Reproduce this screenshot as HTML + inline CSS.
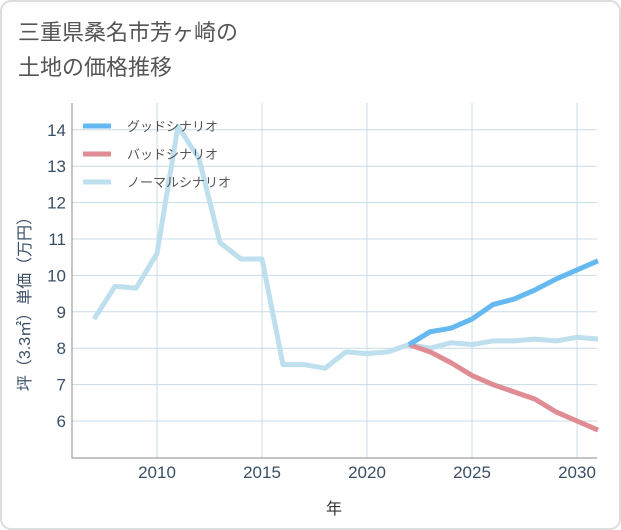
<!DOCTYPE html>
<html><head><meta charset="utf-8"><style>
body{margin:0;background:#fff;font-family:"Liberation Sans","Noto Sans CJK JP",sans-serif;}
#wrap{position:relative;width:621px;height:530px;}
</style></head><body>
<div id="wrap">
<svg id="chart" width="621" height="530" style="position:absolute;left:0;top:0">
<rect x="1" y="1" width="619" height="528" rx="10" fill="#fff" stroke="#ddd" stroke-width="2"/>
<text x="18" y="40" font-size="22" fill="#555">三重県桑名市芳ヶ崎の</text>
<text x="18" y="75" font-size="22" fill="#555">土地の価格推移</text>
<g id="grid"></g><g id="lines"></g><g id="axes"></g>
<text x="334" y="514" font-size="16" fill="#333" text-anchor="middle">年</text>
<text transform="translate(30,300) rotate(-90)" font-size="16" fill="#3a4f66" text-anchor="middle">坪（3.3㎡）単価（万円）</text>
<g>
<line x1="83" y1="126" x2="111" y2="126" stroke="#66b8f0" stroke-width="5"/>
<text x="127" y="131" font-size="13" fill="#555">グッドシナリオ</text>
<line x1="83" y1="154" x2="111" y2="154" stroke="#e08c94" stroke-width="5"/>
<text x="127" y="159" font-size="13" fill="#555">バッドシナリオ</text>
<line x1="83" y1="182" x2="111" y2="182" stroke="#bddfee" stroke-width="5"/>
<text x="127" y="187" font-size="13" fill="#555">ノーマルシナリオ</text>
</g>
</svg>
</div>
<script>
const years=[2007,2008,2009,2010,2011,2012,2013,2014,2015,2016,2017,2018,2019,2020,2021,2022,2023,2024,2025,2026,2027,2028,2029,2030,2031];
const normalVals=[8.8,9.7,9.65,10.6,14.1,13.2,10.9,10.45,10.45,7.55,7.55,7.45,7.9,7.85,7.9,8.1,8.0,8.15,8.1,8.2,8.2,8.25,8.2,8.3,8.25];
const futureYears=[2022,2023,2024,2025,2026,2027,2028,2029,2030,2031];
const goodVals=[8.1,8.45,8.55,8.8,9.2,9.35,9.6,9.9,10.15,10.4];
const badVals=[8.1,7.9,7.6,7.25,7.0,6.8,6.6,6.25,6.0,5.75];
const xTicks=[2010,2015,2020,2025,2030];
const yTicks=[6,7,8,9,10,11,12,13,14];
const L=72,R=597,T=103,B=458;
const xS=y=>157+(y-2010)*21;
const yS=v=>421-(v-6)*36.4;
const NS='http://www.w3.org/2000/svg';
function mk(tag,attrs,parent){const e=document.createElementNS(NS,tag);for(const k in attrs)e.setAttribute(k,attrs[k]);parent.appendChild(e);return e;}
const grid=document.getElementById('grid'),lines=document.getElementById('lines'),axes=document.getElementById('axes');
for(const t of yTicks){
 const g=mk('line',{x1:L,x2:R,y1:yS(t),y2:yS(t),stroke:'#c9dce8','stroke-width':1},grid);
 
 
 const tx=mk('text',{x:L-6,y:yS(t)+6,'font-size':17,fill:'#3a4f66','text-anchor':'end'},axes);
 tx.textContent=t;
 
 
}
for(const t of xTicks){
 const g=mk('line',{x1:xS(t),x2:xS(t),y1:T,y2:B,stroke:'#c9dce8','stroke-width':1},grid);
 
 
 const tx=mk('text',{x:xS(t),y:B+20,'font-size':17,fill:'#3a4f66','text-anchor':'middle'},axes);
 tx.textContent=t;
 
 
}
const fr=mk('path',{d:`M${L},${T}V${B}H${R}`,fill:'none',stroke:'#888','stroke-width':1},axes);


function pts(xs,vs){return xs.map((y,i)=>xS(y)+','+yS(vs[i])).join(' ');}
const n=mk('polyline',{points:pts(years,normalVals),fill:'none',stroke:'#bddfee','stroke-width':5,'stroke-linejoin':'round'},lines);


const b=mk('polyline',{points:pts(futureYears,badVals),fill:'none',stroke:'#e08c94','stroke-width':5,'stroke-linejoin':'round'},lines);


const g=mk('polyline',{points:pts(futureYears,goodVals),fill:'none',stroke:'#66b8f0','stroke-width':5,'stroke-linejoin':'round'},lines);


</script>
</body></html>
